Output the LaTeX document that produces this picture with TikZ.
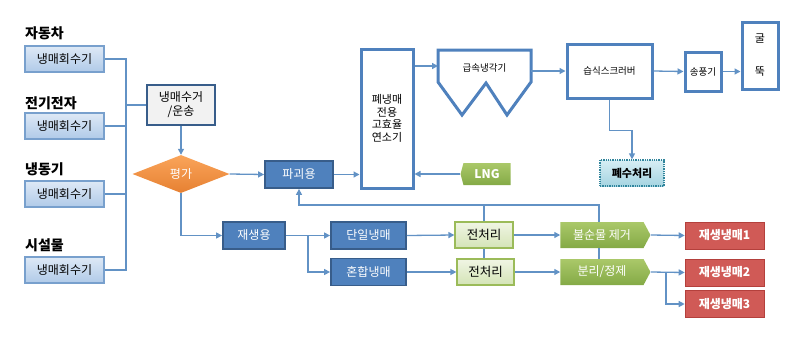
\documentclass[tikz,border=0pt]{standalone}
\usepackage{fontspec}
\newfontfamily\kr{Noto Sans CJK KR}
\usetikzlibrary{shapes.geometric,shapes.symbols,arrows.meta}
\definecolor{lnc}{RGB}{98,146,197}
\definecolor{dkb}{RGB}{79,129,189}
\definecolor{dkbb}{RGB}{56,93,138}
\definecolor{ltb1}{RGB}{222,233,246}
\definecolor{ltb2}{RGB}{176,202,232}
\definecolor{ltbb}{RGB}{120,160,205}
\definecolor{org1}{RGB}{250,165,90}
\definecolor{org2}{RGB}{230,128,50}
\definecolor{grn1}{RGB}{170,200,105}
\definecolor{grn2}{RGB}{132,170,70}
\definecolor{grnb}{RGB}{155,187,89}
\definecolor{pgr1}{RGB}{240,245,228}
\definecolor{pgr2}{RGB}{212,228,182}
\definecolor{red1}{RGB}{208,90,86}
\definecolor{red2}{RGB}{180,64,60}
\definecolor{tea1}{RGB}{215,238,244}
\definecolor{tea2}{RGB}{165,212,225}
\definecolor{teab}{RGB}{49,133,156}
\tikzset{
  ln/.style={draw=lnc, line width=1.3pt},
  arr/.style={ln, -{Triangle[length=6pt,width=6pt]}},
  lbl/.style={font=\kr\bfseries\fontsize{14}{16}\selectfont, anchor=west, inner sep=0pt},
  rec/.style={draw=ltbb, line width=1.2pt, top color=ltb1, bottom color=ltb2, minimum width=79pt, minimum height=26pt, inner sep=0pt, font=\kr\fontsize{12}{14}\selectfont},
  dbox/.style={draw=dkbb, line width=1.8pt, fill=dkb, text=white, inner sep=0pt, minimum height=27pt, font=\kr\fontsize{12}{14}\selectfont},
  wbox/.style={draw=dkb, line width=3pt, fill=white, inner sep=0pt, font=\kr\fontsize{9.5}{12}\selectfont},
  pre/.style={draw=grnb, line width=1.2pt, top color=pgr1, bottom color=pgr2, inner sep=0pt, minimum width=58pt, minimum height=26pt, font=\kr\fontsize{12.5}{14}\selectfont},
  gsig/.style={signal, signal to=east, signal pointer angle=124, draw=none, top color=grn1, bottom color=grn2, text=white, inner sep=0pt, minimum width=90pt, minimum height=26pt, font=\kr\fontsize{12}{14}\selectfont},
  rout/.style={fill=red1, draw=red2, line width=0.6pt, text=white, inner sep=0pt, minimum width=79pt, minimum height=27pt, font=\kr\bfseries\fontsize{12}{14}\selectfont},
}
\begin{document}
\begin{tikzpicture}[x=1pt,y=-1pt]
\useasboundingbox (0,0) rectangle (800,343);
% left labels and boxes
\node[lbl] (l1) at (25,33) {자동차};
\node[lbl] (l2) at (25,103) {전기전자};
\node[lbl] (l3) at (25,169) {냉동기};
\node[lbl] (l4) at (25,245) {시설물};
\node[rec] (r1) at (64.5,59) {냉매회수기};
\node[rec] (r2) at (64.5,126) {냉매회수기};
\node[rec] (r3) at (64.5,194) {냉매회수기};
\node[rec] (r4) at (64.5,270) {냉매회수기};
\coordinate (busT) at (126,59);
\coordinate (busB) at (126,270);
\node[draw=dkbb, line width=2.8pt, fill=black!5, minimum width=68pt, minimum height=40pt, inner sep=0pt, align=center, font=\kr\fontsize{12}{14}\selectfont] (col) at (181,105) {냉매수거\\/운송};
\node[diamond, top color=org1, bottom color=org2, draw=none, minimum width=97pt, minimum height=38pt, inner sep=0pt, text=white, font=\kr\fontsize{12}{14}\selectfont] (eval) at (181,174) {평가};
% blue process boxes
\node[dbox, minimum width=68pt] (destroy) at (299,174.5) {파괴용};
\node[dbox, minimum width=62pt] (regen) at (254,235.5) {재생용};
\node[dbox, minimum width=75pt] (single) at (368.5,235.5) {단일냉매};
\node[dbox, minimum width=75pt] (mixed) at (368.5,272) {혼합냉매};
\node[pre] (pre1) at (484,235) {전처리};
\node[pre, minimum width=57pt] (pre2) at (485.5,272) {전처리};
\node[gsig] (imp) at (602,235) {불순물 제거};
\node[gsig] (sep) at (602,272) {분리/정제};
\node[rout] (o1) at (724.5,235.5) {재생냉매1};
\node[rout] (o2) at (724.5,272.5) {재생냉매2};
\node[rout] (o3) at (724.5,304) {재생냉매3};
% top line
\node[wbox, minimum width=52pt, minimum height=139pt, align=center, font=\kr\fontsize{11}{12.5}\selectfont] (burn) at (387,118.5) {폐냉매\\전용\\고효율\\연소기};
\node[signal, signal to=west, signal pointer angle=150, top color=grn1, bottom color=grn2, draw=none, text=white, minimum width=50pt, minimum height=22pt, inner sep=0pt, font=\kr\bfseries\fontsize{12}{14}\selectfont] (lng) at (487,174) {LNG};
\node[inner sep=0pt, minimum width=93pt, minimum height=32pt, font=\kr\fontsize{9.5}{12}\selectfont] (quench) at (484.5,68) {급속냉각기};
\draw[draw=dkb, line width=3pt, line join=miter] (438,50) -- (531,50) -- (531,82) -- (507,115) -- (486,83) -- (462,115) -- (438,82) -- cycle;
\coordinate (qin) at (438,66);
\coordinate (qout) at (531,71);
\node[wbox, minimum width=85pt, minimum height=54pt] (scrub) at (609.5,71) {습식스크러버};
\node[wbox, minimum width=36pt, minimum height=39pt] (fan) at (703,71.5) {송풍기};
\node[wbox, minimum width=36pt, minimum height=67pt, align=center, font=\kr\fontsize{11}{33}\selectfont] (stack) at (760,55.5) {굴\\뚝};
\node[draw=teab, densely dotted, line width=1.3pt, top color=tea1, bottom color=tea2, minimum width=64pt, minimum height=26pt, inner sep=0pt, font=\kr\bfseries\fontsize{11}{13}\selectfont] (ww) at (632,173) {폐수처리};
% connectors
\draw[ln] (r1.east) -- (busT) -- (busB) -- (r4.east);
\draw[ln] (r2.east) -- (r2.east -| busT);
\draw[ln] (r3.east) -- (r3.east -| busT);
\draw[ln] (col.west -| busT) -- (col.west);
\draw[arr] (col.south) -- (eval.north);
\draw[arr] (eval.east) -- (destroy.west);
\draw[arr] (eval.south) |- (regen.west);
\draw[arr] (destroy.east) -- (destroy.east -| burn.west);
\draw[arr] (lng.west) -- (lng.west -| burn.east);
\draw[arr] (burn.east |- qin) -- (qin);
\draw[arr] (qout) -- (scrub.west);
\draw[arr] (scrub.east) -- (fan.west);
\draw[arr] (fan.east) -- (fan.east -| stack.west);
\draw[arr] (scrub.south) -- ++(0,31) -| (ww.north);
\coordinate (jn) at (308,235.5);
\draw[arr] (regen.east) -- (single.west);
\draw[arr] (jn) |- (mixed.west);
\draw[arr] (single.east) -- (pre1.west);
\draw[arr] (mixed.east) -- (pre2.west);
\draw[arr] (pre1.east) -- (imp.west);
\draw[arr] (pre2.east) -- (sep.west);
\coordinate (fb) at (599,205);
\draw[ln] (sep.north -| fb) -- (imp.south -| fb);
\draw[arr] (imp.north -| fb) -- (fb) -- (fb -| destroy.south) -- (destroy.south);
\draw[ln] (pre1.north) -- (pre1.north |- fb);
\draw[ln] (pre1.south) -- (pre1.south |- pre2.north);
\draw[arr] (imp.east) -- (o1.west);
\draw[arr] (sep.east) -- (o2.west);
\coordinate (jn2) at (666,272.5);
\draw[arr] (jn2) |- (o3.west);
\end{tikzpicture}
\end{document}
